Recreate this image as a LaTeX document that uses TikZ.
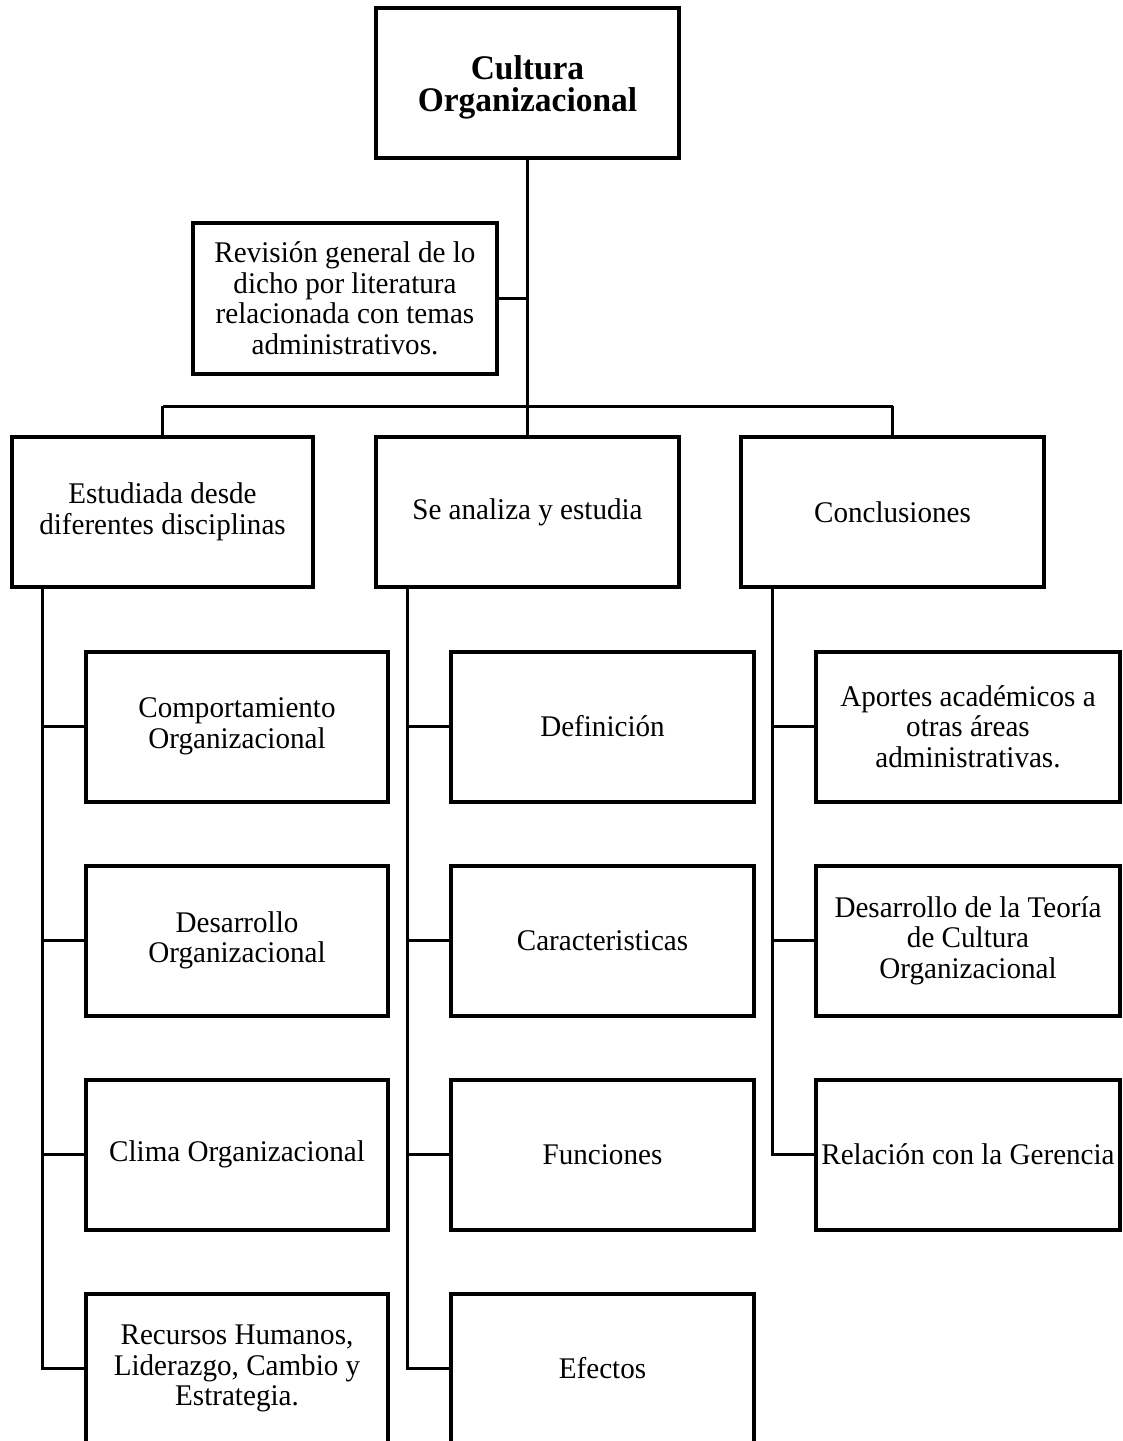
\documentclass[tikz,border=0pt]{standalone}
\usepackage{fontspec}
\setmainfont{Liberation Serif}[FakeStretch=0.97]
\begin{document}
\begin{tikzpicture}[x=1pt,y=-1pt,
  box/.style={draw=black,line width=4pt,rectangle,inner sep=0pt,align=center,
    minimum width=#1,minimum height=150pt,font=\fontsize{30}{30.5}\selectfont},
  box/.default=303pt,
  conn/.style={draw=black,line width=3pt}]
\useasboundingbox (0,0) rectangle (1123,1441);
\clip (0,0) rectangle (1123,1441);
% top
\node[box] (top) at (527.5,83) {};
\node[inner sep=0pt,align=center,font=\bfseries\fontsize{34.5}{32}\selectfont] (toptext) at (527.5,87) {Cultura\\Organizacional};
\node[box=304pt,minimum height=151pt] (rev) at (345,298.5) {Revisión general de lo\\dicho por literatura\\relacionada con temas\\administrativos.};
% level 2
\node[box=301pt] (a) at (162.5,512) {Estudiada desde\\diferentes disciplinas};
\node[box] (b) at (527.5,512) {Se analiza y estudia};
\node[box] (c) at (892.5,512) {Conclusiones};
% left children
\node[box=302pt] (l1) at (237,726.5) {Comportamiento\\Organizacional};
\node[box=302pt] (l2) at (237,940.5) {Desarrollo\\Organizacional};
\node[box=302pt] (l3) at (237,1154.5) {Clima Organizacional};
\node[box=302pt] (l4) at (237,1368.5) {Recursos Humanos,\\Liderazgo, Cambio y\\Estrategia.};
% middle children
\node[box] (m1) at (602.5,726.5) {Definición};
\node[box] (m2) at (602.5,940.5) {Caracteristicas};
\node[box] (m3) at (602.5,1154.5) {Funciones};
\node[box] (m4) at (602.5,1368.5) {Efectos};
% right children
\node[box=304pt] (r1) at (968,726.5) {Aportes académicos a\\otras áreas\\administrativas.};
\node[box=304pt] (r2) at (968,940.5) {Desarrollo de la Teoría\\de Cultura\\Organizacional};
\node[box=304pt] (r3) at (968,1154.5) {Relación con la Gerencia};
% connectors
\coordinate (bus) at (527.5,406);
\coordinate (sl) at (42,0);
\coordinate (sm) at (407,0);
\coordinate (sr) at (772,0);
\draw[conn] (top.south) -- (b.north);
\draw[conn] (rev.east) -- (rev.east -| top.south);
\draw[conn] (bus -| a.north) -- (bus -| c.north);
\draw[conn] (bus -| a.north) -- (a.north);
\draw[conn] (bus -| c.north) -- (c.north);
\draw[conn] (sl |- a.south) |- (l4.west);
\draw[conn] (sl |- l1.west) -- (l1.west);
\draw[conn] (sl |- l2.west) -- (l2.west);
\draw[conn] (sl |- l3.west) -- (l3.west);
\draw[conn] (sm |- b.south) |- (m4.west);
\draw[conn] (sm |- m1.west) -- (m1.west);
\draw[conn] (sm |- m2.west) -- (m2.west);
\draw[conn] (sm |- m3.west) -- (m3.west);
\draw[conn] (sr |- c.south) |- (r3.west);
\draw[conn] (sr |- r1.west) -- (r1.west);
\draw[conn] (sr |- r2.west) -- (r2.west);
\end{tikzpicture}
\end{document}
